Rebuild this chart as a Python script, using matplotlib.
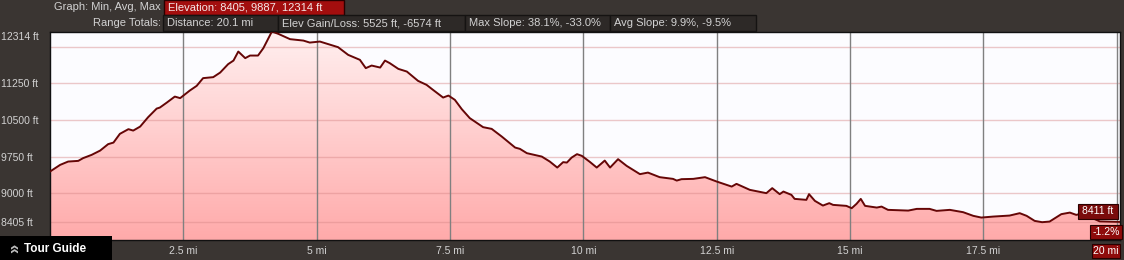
import matplotlib.pyplot as plt
import numpy as np
from matplotlib.patches import Rectangle, Polygon

W, H = 1124, 260

# elevation profile
dist_mi = [0.00, 0.19, 0.34, 0.53, 0.62, 0.78, 0.94, 1.09, 1.19, 1.31, 1.47, 1.56, 1.69, 1.84,
           2.00, 2.06, 2.19, 2.34, 2.44, 2.62, 2.75, 2.87, 3.06, 3.19, 3.34, 3.44, 3.53, 3.66,
           3.75, 3.90, 4.00, 4.16, 4.28, 4.50, 4.75, 4.87, 5.06, 5.40, 5.59, 5.81, 5.92, 6.03,
           6.19, 6.28, 6.37, 6.53, 6.69, 6.90, 7.06, 7.18, 7.37, 7.47, 7.59, 7.72, 7.87, 8.12,
           8.28, 8.47, 8.72, 8.81, 8.94, 9.22, 9.37, 9.51, 9.62, 9.69, 9.78, 9.88, 9.97, 10.12,
           10.25, 10.40, 10.50, 10.65, 10.81, 11.06, 11.21, 11.43, 11.68, 11.75, 11.84, 12.06,
           12.28, 12.50, 12.78, 12.87, 13.12, 13.43, 13.54, 13.68, 13.75, 13.90, 13.96, 14.18,
           14.23, 14.34, 14.49, 14.61, 14.68, 14.93, 15.03, 15.12, 15.20, 15.28, 15.50, 15.59,
           15.71, 16.09, 16.25, 16.49, 16.62, 16.87, 17.12, 17.31, 17.46, 17.68, 17.99, 18.18,
           18.31, 18.46, 18.60, 18.74, 18.96, 19.12, 19.24, 19.37, 19.49, 19.68, 20.06]
elev_ft = [9443, 9580, 9648, 9662, 9718, 9785, 9873, 10005, 10037, 10216, 10312, 10283, 10365, 10558,
           10734, 10755, 10857, 10980, 10948, 11103, 11200, 11358, 11378, 11472, 11645, 11718, 11903, 11768,
           11821, 11821, 11973, 12314, 12266, 12157, 12128, 12087, 12108, 11993, 11835, 11733, 11563, 11616,
           11575, 11718, 11665, 11548, 11493, 11302, 11220, 11118, 10960, 11001, 10913, 10722, 10538, 10353,
           10318, 10160, 9935, 9908, 9820, 9750, 9648, 9525, 9636, 9627, 9730, 9800, 9765, 9642,
           9525, 9668, 9525, 9697, 9560, 9390, 9422, 9328, 9293, 9258, 9287, 9293,
           9328, 9238, 9135, 9191, 9068, 9000, 9103, 8980, 9033, 8965, 8883, 8863,
           8980, 8842, 8746, 8795, 8760, 8740, 8692, 8781, 8883, 8740, 8705, 8725,
           8658, 8643, 8678, 8678, 8637, 8658, 8610, 8535, 8500, 8520, 8541, 8590,
           8535, 8432, 8405, 8418, 8570, 8602, 8555, 8590, 8514, 8422, 8411]

y_ticks = [8405, 9000, 9750, 10500, 11250, 12314]
grid_ft = [8405, 9000, 9750, 10500, 11250, 12000]
x_ticks = [2.5, 5, 7.5, 10, 12.5, 15, 17.5, 20]
x_labels = ['2.5 mi', '5 mi', '7.5 mi', '10 mi', '12.5 mi', '15 mi', '17.5 mi', '']
end_dist_label = '20 mi'
end_slope = '-1.2%'

graph_label = 'Graph: Min, Avg, Max'
elev_stats = 'Elevation: 8405, 9887, 12314 ft'
totals_label = 'Range Totals:'
totals = ['Distance: 20.1 mi', 'Elev Gain/Loss: 5525 ft, -6574 ft',
          'Max Slope: 38.1%, -33.0%', 'Avg Slope: 9.9%, -9.5%']

plt.rcParams['font.family'] = ['Liberation Sans', 'DejaVu Sans']

BG = '#3a3532'
TXT = '#d2d2d2'
RED = '#8e0b0b'

fig = plt.figure(figsize=(W / 100, H / 100), dpi=100)
fig.patch.set_facecolor(BG)


def px(x0, y0, x1, y1):
    return [x0 / W, 1 - y1 / H, (x1 - x0) / W, (y1 - y0) / H]


ax = fig.add_axes(px(50, 31.5, 1120, 240))
xmax = 20.06
ymin, ymax = 8040, 12314
ax.set_xlim(0, xmax)
ax.set_ylim(ymin, ymax)
ax.set_facecolor('#fcfcff')

# gradient fill under the profile
grad = np.linspace(0, 1, 256).reshape(-1, 1)
top = np.array([255, 240, 240]) / 255
bot = np.array([255, 170, 170]) / 255
rgb = top + (bot - top) * grad[:, :, None]
img = ax.imshow(rgb, extent=[0, xmax, ymin, ymax], aspect='auto', origin='upper', zorder=1)
poly = Polygon(list(zip(dist_mi, elev_ft)) + [(dist_mi[-1], ymin), (dist_mi[0], ymin)],
               closed=True, facecolor='none', edgecolor='none')
ax.add_patch(poly)
img.set_clip_path(poly)

for g in grid_ft:
    ax.axhline(g, color='#d88888', alpha=0.45, lw=1, zorder=2)
for t in x_ticks:
    ax.axvline(t, color='#808080', lw=1, zorder=2)

ax.plot(dist_mi, elev_ft, color='#650606', lw=1.4, zorder=3)

ax.set_xticks(x_ticks)
ax.set_xticklabels(x_labels)
ax.set_yticks(y_ticks)
ax.set_yticklabels([f'{v} ft' for v in y_ticks])
ax.tick_params(axis='both', length=0, colors=TXT, labelsize=7.5)
ax.tick_params(axis='x', pad=4)
ax.tick_params(axis='y', pad=35)
for lab in ax.get_yticklabels():
    lab.set_ha('left')
ax.get_yticklabels()[-1].set_va('top')
for s in ax.spines.values():
    s.set_color('#111111')
    s.set_linewidth(1)

# overlay in pixel coordinates for the header and badges
ov = fig.add_axes([0, 0, 1, 1], zorder=5)
ov.set_xlim(0, W)
ov.set_ylim(H, 0)
ov.axis('off')
ov.patch.set_visible(False)

ov.text(161, 7.5, graph_label, ha='right', va='center', color=TXT, fontsize=8)
ov.add_patch(Rectangle((164, 0), 180, 15, fc='#a30e0e', ec='#2a0000', lw=1))
ov.text(168, 7.5, elev_stats, ha='left', va='center', color='#f4e8e8', fontsize=8)

ov.text(161, 23, totals_label, ha='right', va='center', color=TXT, fontsize=8)
edges = [163, 278, 465, 610, 756]
for i, label in enumerate(totals):
    ov.add_patch(Rectangle((edges[i], 15), edges[i + 1] - edges[i], 16,
                           fc='#2d2927', ec='#151312', lw=1))
    ov.text(edges[i] + 4, 23, label, ha='left', va='center', color=TXT, fontsize=8)

# end-of-range badges
ov.add_patch(Rectangle((1078, 204), 40, 15, fc='#7a0b0b', ec='#2a0000', lw=0.8))
ov.text(1098, 211.5, f'{elev_ft[-1]} ft', ha='center', va='center', color='white', fontsize=7.5)
ov.add_patch(Rectangle((1090, 225), 32, 14, fc=RED, ec='#2a0000', lw=0.8))
ov.text(1106, 232, end_slope, ha='center', va='center', color='white', fontsize=7.5)
ov.add_patch(Rectangle((1092, 244), 28, 14, fc=RED, ec='#2a0000', lw=0.8))
ov.text(1106, 251, end_dist_label, ha='center', va='center', color='white', fontsize=7.5)

# tour guide button
ov.add_patch(Rectangle((0, 236), 112, 24, fc='black', ec='none'))
ov.text(15, 248.5, '\u00bb', rotation=90, ha='center', va='center', color='#bdbdbd',
        fontsize=12, fontweight='bold')
ov.text(24, 249, 'Tour Guide', ha='left', va='center', color='white', fontsize=8.5,
        fontweight='bold')

fig.savefig('out.png', dpi=100, facecolor=fig.get_facecolor())
